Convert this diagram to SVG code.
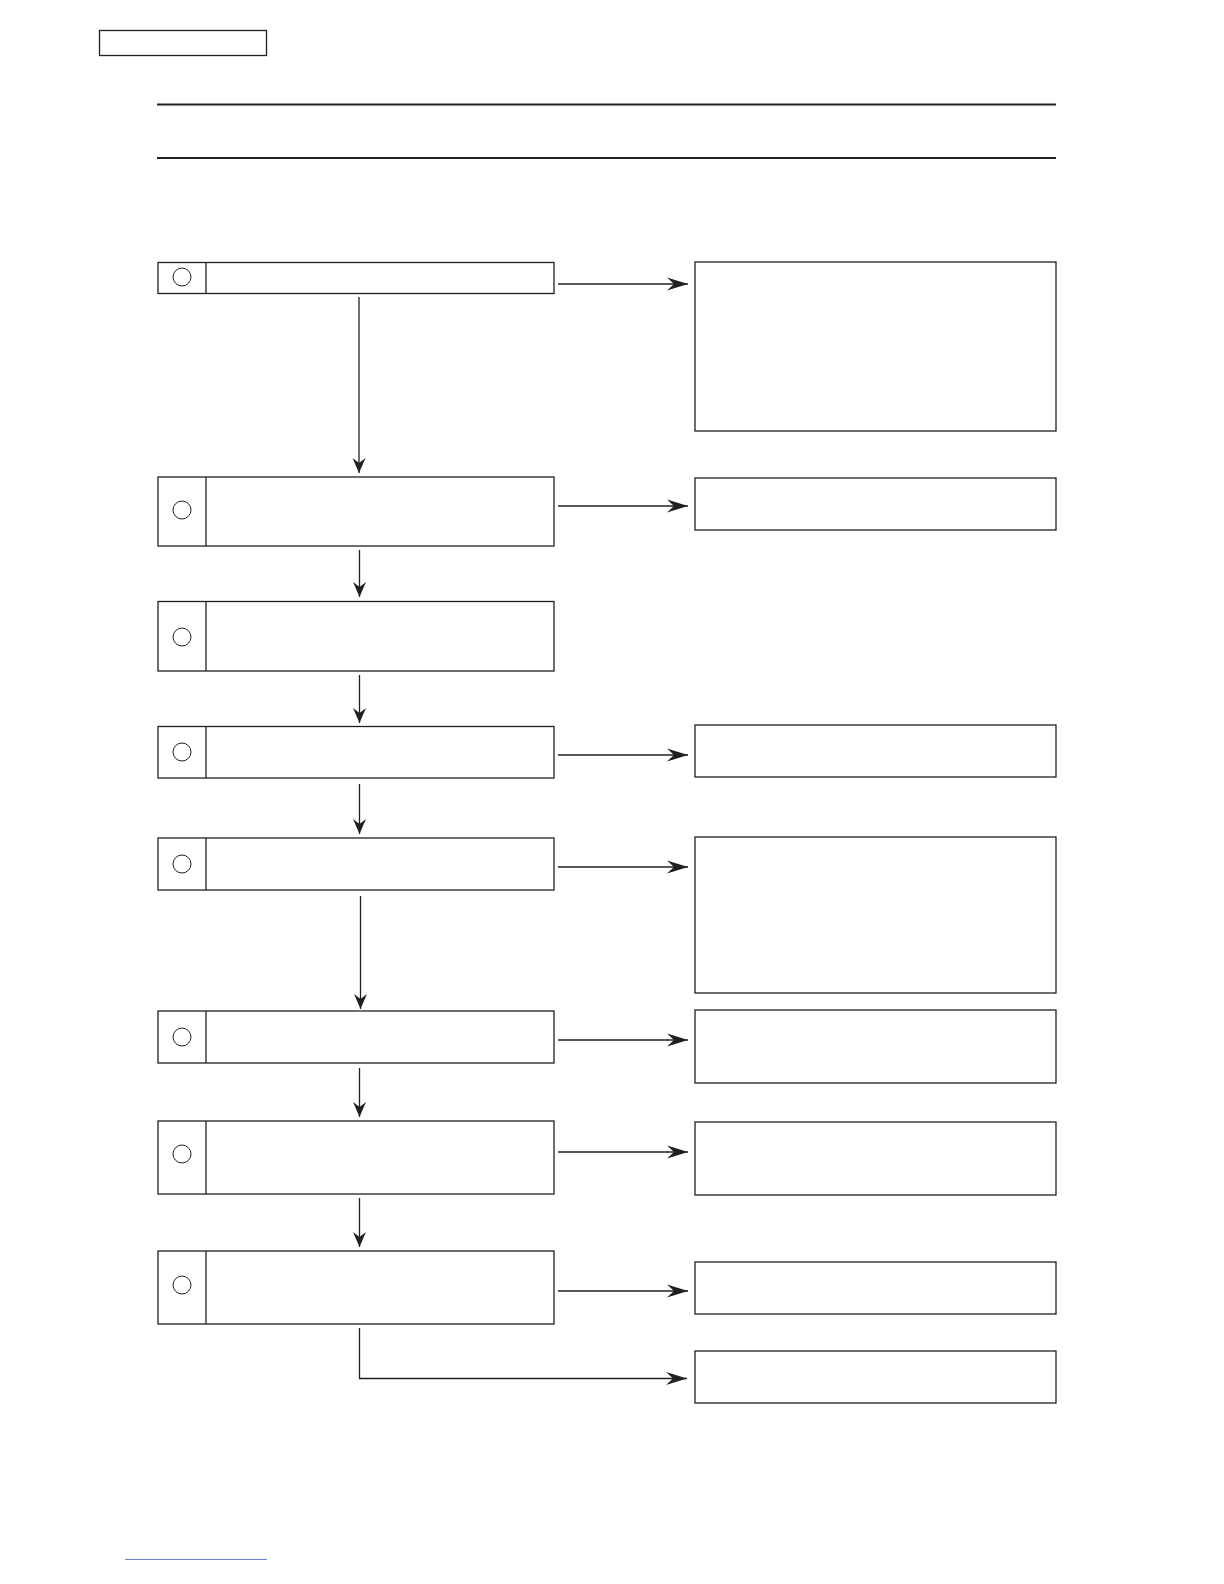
<svg xmlns="http://www.w3.org/2000/svg" width="1224" height="1584" viewBox="0 0 1224 1584">
<defs>
<style>
.box{fill:#fff;stroke:#231f20;stroke-width:1.3}
.div{stroke:#231f20;stroke-width:1.3}
.num{fill:none;stroke:#231f20;stroke-width:1}
.rule{stroke:#231f20;stroke-width:2}
.con{fill:none;stroke:#231f20;stroke-width:1.3}
</style>
<marker id="ah" markerUnits="userSpaceOnUse" markerWidth="22" markerHeight="14" viewBox="0 0 22 14" refX="21" refY="7" orient="auto">
<path d="M0,0.5 L21,7 L0,13.5 L7,7 z" fill="#231f20"/>
</marker>
<marker id="av" markerUnits="userSpaceOnUse" markerWidth="16" markerHeight="14" viewBox="0 0 16 14" refX="15" refY="7" orient="auto">
<path d="M0,0.5 L15,7 L0,13.5 L5,7 z" fill="#231f20"/>
</marker>
</defs>
<rect width="1224" height="1584" fill="#fff"/>
<g id="header">
<rect class="box" x="99.5" y="30.5" width="167" height="25"/>
<line class="rule" x1="157" y1="104.5" x2="1056" y2="104.5"/>
<line class="rule" x1="157" y1="158" x2="1056" y2="158"/>
</g>
<g id="step1"><rect class="box" x="158" y="262.5" width="396" height="31"/><line class="div" x1="206" y1="262.5" x2="206" y2="293.5"/><circle class="num" cx="182" cy="277" r="9"/></g>
<g id="step2"><rect class="box" x="158" y="477" width="396" height="69"/><line class="div" x1="206" y1="477" x2="206" y2="546"/><circle class="num" cx="182" cy="510" r="9"/></g>
<g id="step3"><rect class="box" x="158" y="601.5" width="396" height="69.5"/><line class="div" x1="206" y1="601.5" x2="206" y2="671"/><circle class="num" cx="182" cy="637" r="9"/></g>
<g id="step4"><rect class="box" x="158" y="726.5" width="396" height="51.5"/><line class="div" x1="206" y1="726.5" x2="206" y2="778"/><circle class="num" cx="182" cy="752" r="9"/></g>
<g id="step5"><rect class="box" x="158" y="838" width="396" height="52"/><line class="div" x1="206" y1="838" x2="206" y2="890"/><circle class="num" cx="182" cy="864" r="9"/></g>
<g id="step6"><rect class="box" x="158" y="1011" width="396" height="52"/><line class="div" x1="206" y1="1011" x2="206" y2="1063"/><circle class="num" cx="182" cy="1037" r="9"/></g>
<g id="step7"><rect class="box" x="158" y="1121" width="396" height="73"/><line class="div" x1="206" y1="1121" x2="206" y2="1194"/><circle class="num" cx="182" cy="1154" r="9"/></g>
<g id="step8"><rect class="box" x="158" y="1251" width="396" height="73"/><line class="div" x1="206" y1="1251" x2="206" y2="1324"/><circle class="num" cx="182" cy="1285" r="9"/></g>
<g id="result1"><rect class="box" x="695" y="262" width="361" height="169"/></g>
<g id="result2"><rect class="box" x="695" y="478" width="361" height="52"/></g>
<g id="result3"><rect class="box" x="695" y="725" width="361" height="52"/></g>
<g id="result4"><rect class="box" x="695" y="837" width="361" height="156"/></g>
<g id="result5"><rect class="box" x="695" y="1010" width="361" height="73"/></g>
<g id="result6"><rect class="box" x="695" y="1122" width="361" height="73"/></g>
<g id="result7"><rect class="box" x="695" y="1262" width="361" height="52"/></g>
<g id="result8"><rect class="box" x="695" y="1351" width="361" height="52"/></g>
<g id="connectors">
<line class="con" x1="558" y1="284" x2="688" y2="284" marker-end="url(#ah)"/>
<line class="con" x1="558" y1="506" x2="688" y2="506" marker-end="url(#ah)"/>
<line class="con" x1="558" y1="755" x2="688" y2="755" marker-end="url(#ah)"/>
<line class="con" x1="558" y1="867" x2="688" y2="867" marker-end="url(#ah)"/>
<line class="con" x1="558" y1="1040" x2="688" y2="1040" marker-end="url(#ah)"/>
<line class="con" x1="558" y1="1152" x2="688" y2="1152" marker-end="url(#ah)"/>
<line class="con" x1="558" y1="1291" x2="688" y2="1291" marker-end="url(#ah)"/>
<path class="con" d="M359.5,1328 V1378.5 H687" marker-end="url(#ah)"/>
<line class="con" x1="359" y1="297" x2="359" y2="473" marker-end="url(#av)"/>
<line class="con" x1="359.5" y1="550" x2="359.5" y2="597" marker-end="url(#av)"/>
<line class="con" x1="359.5" y1="675" x2="359.5" y2="723" marker-end="url(#av)"/>
<line class="con" x1="359.5" y1="784" x2="359.5" y2="834" marker-end="url(#av)"/>
<line class="con" x1="360.5" y1="896" x2="360.5" y2="1009" marker-end="url(#av)"/>
<line class="con" x1="359.5" y1="1068" x2="359.5" y2="1117" marker-end="url(#av)"/>
<line class="con" x1="359.5" y1="1198" x2="359.5" y2="1247" marker-end="url(#av)"/>
</g>
<line x1="125" y1="1559.5" x2="267" y2="1559.5" stroke="#6a7fd8" stroke-width="1"/>
</svg>
